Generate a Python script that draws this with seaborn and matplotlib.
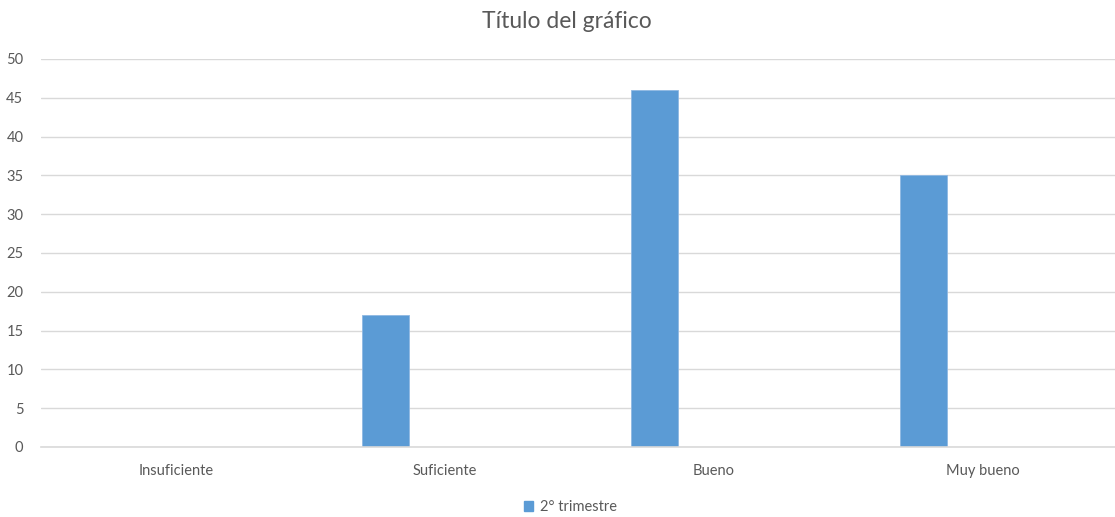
import matplotlib
matplotlib.use("Agg")
import matplotlib.pyplot as plt
import seaborn as sns
import pandas as pd
import numpy as np

categories = ["Insuficiente", "Suficiente", "Bueno", "Muy bueno"]
series_names = ["2° trimestre", "_s2", "_s3"]
values_t2 = [0, 17, 46, 35]
values_s2 = [np.nan, np.nan, np.nan, np.nan]
values_s3 = [np.nan, np.nan, np.nan, np.nan]
yticks = [0, 5, 10, 15, 20, 25, 30, 35, 40, 45, 50]

rows = []
for name, vals in zip(series_names, [values_t2, values_s2, values_s3]):
    for c, v in zip(categories, vals):
        rows.append({"cat": c, "serie": name, "val": v})
df = pd.DataFrame(rows)

sns.set_theme(style="white")
plt.rcParams["font.family"] = ["Lato", "DejaVu Sans"]

fig = plt.figure(figsize=(11.15, 5.17), dpi=100)
ax = fig.add_axes([0.0372, 0.1354, 0.9650, 0.7505])

blue = "#5b9bd5"
sns.barplot(data=df, x="cat", y="val", hue="serie", hue_order=series_names,
            order=categories, palette=[blue, blue, blue], width=0.66, gap=0.2,
            ax=ax, legend=False, edgecolor="#8fb8e3", linewidth=0.6, saturation=1)

ax.set_ylim(0, 50)
ax.set_xlim(-0.5, 3.5)
ax.set_yticks(yticks)
ax.set_yticklabels([str(t) for t in yticks])
ax.yaxis.grid(True, color="#d9d9d9", linewidth=1.0)
ax.set_axisbelow(True)
for s in ["top", "right", "left"]:
    ax.spines[s].set_visible(False)
ax.spines["bottom"].set_color("#d9d9d9")
ax.spines["bottom"].set_linewidth(1.2)
ax.tick_params(axis="both", length=0, labelsize=10.5, labelcolor="#595959")
ax.tick_params(axis="y", pad=13)
ax.tick_params(axis="x", pad=12)
ax.set_xlabel("")
ax.set_ylabel("")

fig.text(0.508, 0.958, "Título del gráfico", ha="center", va="center",
         fontsize=16.5, color="#595959")

from matplotlib.patches import Patch
handles = [Patch(facecolor=blue, edgecolor=blue)]
fig.legend(handles, [series_names[0]], loc="center", bbox_to_anchor=(0.512, 0.019),
           frameon=False, fontsize=10.5, labelcolor="#595959", handlelength=0.6,
           handleheight=0.6, handletextpad=0.5)

fig.savefig("out.png", dpi=100)
